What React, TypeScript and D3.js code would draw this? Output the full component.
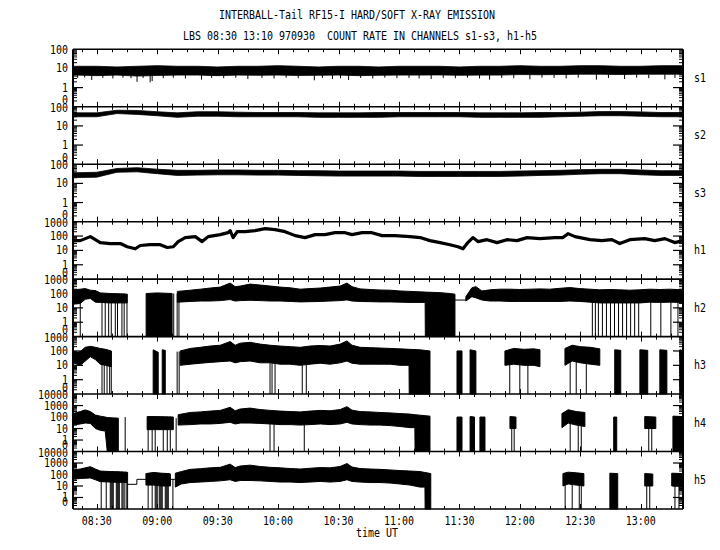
import React from "react";
import * as d3 from "d3";

// ---------- layout / text ----------
const TIME_START = "08:18.2";
const TIME_END = "13:21";
const titleLine1 = "INTERBALL-Tail RF15-I HARD/SOFT X-RAY EMISSION";
const titleLine2 = "LBS 08:30 13:10 970930  COUNT RATE IN CHANNELS s1-s3, h1-h5";
const xAxisTitle = "time UT";
const xTickLabels = ["08:30", "09:00", "09:30", "10:00", "10:30", "11:00", "11:30", "12:00", "12:30", "13:00"];
const channelNames = ["s1", "s2", "s3", "h1", "h2", "h3", "h4", "h5"];
const channelMax = [100, 100, 100, 1000, 1000, 1000, 10000, 10000];
const yLabels100 = ["100", "10", "1", "0"];
const yLabels1000 = ["1000", "100", "10", "1", "0"];
const yLabels10000 = ["10000", "1000", "100", "10", "1", "0"];

// ---------- soft channels: 10-min grid, band hi / lo ----------
const sGridTimes = ["08:20", "08:30", "08:40", "08:50", "09:00", "09:10", "09:20", "09:30", "09:40", "09:50", "10:00", "10:10", "10:20", "10:30", "10:40", "10:50", "11:00", "11:10", "11:20", "11:30", "11:40", "11:50", "12:00", "12:10", "12:20", "12:30", "12:40", "12:50", "13:00", "13:10", "13:20"];
const s1Hi = [13, 13, 12, 13, 14, 13, 13, 12, 13, 13, 14, 13, 12, 13, 13, 12, 13, 13, 13, 12, 13, 13, 14, 13, 13, 14, 14, 13, 13, 14, 14];
const s1Lo = [4.5, 4.2, 4.5, 4.0, 4.3, 4.5, 4.5, 4.2, 4.5, 4.4, 4.5, 4.3, 4.4, 4.5, 4.2, 4.4, 4.5, 4.5, 4.6, 4.4, 4.5, 4.5, 4.8, 4.7, 4.8, 5, 5, 4.8, 5, 5, 5];
const s2Hi = [48, 48, 66, 64, 55, 48, 55, 55, 52, 50, 50, 50, 48, 48, 48, 50, 50, 50, 50, 50, 48, 48, 48, 50, 50, 52, 56, 56, 54, 50, 50];
const s2Lo = [30, 30, 44, 40, 34, 28, 32, 32, 30, 30, 30, 30, 28, 28, 28, 28, 30, 30, 30, 30, 28, 28, 28, 28, 30, 32, 34, 34, 32, 30, 30];
const s3Hi = [36, 38, 60, 66, 55, 48, 48, 50, 50, 48, 48, 46, 46, 44, 44, 44, 44, 42, 42, 42, 42, 42, 44, 46, 48, 52, 54, 54, 50, 46, 46];
const s3Lo = [20, 21, 38, 40, 32, 26, 27, 28, 28, 27, 27, 26, 25, 24, 24, 24, 24, 23, 23, 23, 23, 23, 24, 26, 27, 30, 32, 32, 28, 26, 26];
// downward spikes in s1: [time, lowest value]
const s1Spikes: [string, number][] = [["08:20.5", 3.2], ["08:24", 3.4], ["08:27.5", 2.5], ["08:33", 3.2], ["08:38", 3.0], ["08:43", 3.3], ["08:47", 3.1], ["08:50", 2.0], ["08:53", 3.2], ["08:56.5", 1.9], ["08:57.5", 2.2], ["09:03", 3.1], ["09:08", 3.3], ["09:14", 3.0], ["09:22", 2.6], ["09:27", 3.2], ["09:33", 3.1], ["09:39", 3.3], ["09:45", 2.8], ["09:52", 3.2], ["09:58", 3.0], ["10:04", 3.3], ["10:10", 3.1], ["10:18", 2.4], ["10:22", 3.2], ["10:27", 2.8], ["10:31", 3.1], ["10:35", 2.5], ["10:41", 3.2], ["10:47", 3.0], ["10:53", 3.3], ["10:59", 3.1], ["11:05", 3.2], ["11:10", 3.0], ["11:16", 2.8], ["11:22", 3.2], ["11:28", 3.1], ["11:34", 3.3], ["11:40", 3.0], ["11:45", 2.6], ["11:51", 3.2], ["11:57", 3.1], ["12:05", 2.7], ["12:11", 3.3], ["12:17", 3.2], ["12:23", 3.0], ["12:29", 3.3], ["12:38", 2.6], ["12:44", 3.2], ["12:52", 2.8], ["12:58", 3.3], ["13:04", 3.1], ["13:12", 2.7], ["13:17", 3.2]];

// ---------- h1: single trace ----------
const h1Times = ["08:18.2", "08:21.8", "08:26.8", "08:29.3", "08:31.7", "08:36.7", "08:41.7", "08:45.1", "08:49.1", "08:51.6", "08:56.5", "09:01.5", "09:05", "09:08", "09:10.4", "09:13.9", "09:18.9", "09:22.3", "09:25.3", "09:31.3", "09:35.2", "09:36.2", "09:37.7", "09:39.7", "09:43.7", "09:48.6", "09:53.6", "09:58.5", "10:03.5", "10:08.5", "10:13.4", "10:18.4", "10:23.3", "10:28.3", "10:33.3", "10:36.7", "10:41.7", "10:46.6", "10:51.6", "10:58", "11:05.5", "11:10.5", "11:15.4", "11:20.4", "11:25.3", "11:29.3", "11:31.8", "11:34.2", "11:36.7", "11:39.2", "11:43.7", "11:48.7", "11:53.6", "11:58.6", "12:03.6", "12:10", "12:17.4", "12:21.4", "12:23.9", "12:27.4", "12:34.8", "12:40.7", "12:45.7", "12:49.6", "12:54.6", "13:02", "13:07", "13:12", "13:16.9", "13:21"];
const h1Values = [48, 48, 91, 56, 35, 30, 30, 18, 13, 22, 25, 25, 16, 18, 41, 78, 91, 41, 91, 125, 172, 237, 78, 202, 202, 237, 327, 278, 202, 107, 78, 125, 125, 172, 172, 125, 172, 172, 107, 107, 91, 78, 48, 35, 25, 18, 13, 35, 78, 41, 56, 35, 56, 48, 78, 66, 78, 78, 147, 91, 56, 48, 56, 30, 56, 66, 48, 66, 35, 48];

// ---------- hard channels: band segments [time, hi, lo] (lo 0 = down to zero) ----------
type Pt = [string, number, number];
const h2Segments: Pt[][] = [
  [["08:18.2", 180, 18], ["08:21.8", 200, 20], ["08:24.3", 220, 40], ["08:26.8", 170, 45], ["08:29.3", 160, 25], ["08:31.7", 110, 24], ["08:36.7", 100, 22], ["08:41.7", 95, 22], ["08:45.1", 90, 22]],
  [["08:54.5", 100, 0], ["09:00", 110, 0], ["09:07.4", 100, 0]],
  [["09:10", 140, 25], ["09:12.4", 150, 26], ["09:16.4", 170, 28], ["09:21.4", 200, 30], ["09:26.3", 240, 30], ["09:31.3", 280, 32], ["09:36.2", 530, 38], ["09:38.7", 300, 30], ["09:41.2", 330, 32], ["09:46.1", 450, 34], ["09:51.1", 390, 32], ["09:56.1", 330, 30], ["10:01", 280, 30], ["10:06", 250, 28], ["10:11", 200, 26], ["10:15.9", 220, 27], ["10:20.9", 240, 28], ["10:25.8", 280, 30], ["10:30.8", 330, 32], ["10:34.2", 530, 36], ["10:36.7", 300, 30], ["10:40.7", 210, 28], ["10:45.7", 190, 27], ["10:50.6", 175, 26], ["10:55.6", 170, 26], ["11:00.5", 150, 25], ["11:05.5", 140, 24], ["11:10.5", 130, 24], ["11:13", 126, 24], ["11:13.1", 125, 0], ["11:20.4", 115, 0], ["11:25.3", 100, 0], ["11:27.8", 90, 0]],
  [["11:33.2", 60, 30], ["11:36.2", 250, 60], ["11:38.2", 300, 50], ["11:41.2", 150, 35], ["11:45.2", 180, 30], ["11:50.1", 200, 30], ["11:55.1", 200, 28], ["12:00", 190, 28], ["12:05", 200, 28], ["12:10", 210, 28], ["12:14.9", 200, 28], ["12:19.9", 230, 28], ["12:24.8", 260, 30], ["12:29.8", 220, 28], ["12:34.8", 200, 25], ["12:39.7", 180, 22], ["12:44.7", 190, 22], ["12:49.6", 180, 22], ["12:54.6", 170, 22], ["12:59.6", 180, 22], ["13:04.5", 200, 25], ["13:09.5", 190, 24], ["13:14.4", 200, 25], ["13:21", 180, 24]],
];
const h2Drops: [string, number][] = [["08:21.8", 150], ["08:32.6", 100], ["08:34.2", 100], ["08:35.9", 100], ["08:37.2", 100], ["08:39.2", 100], ["08:40.3", 100], ["08:42.5", 100], ["08:43.6", 100], ["08:45", 90], ["09:08.2", 100], ["09:09.9", 100], ["09:10.8", 120], ["12:36", 150], ["12:37.5", 150], ["12:39", 150], ["12:41", 150], ["12:43", 150], ["12:45", 150], ["12:47", 150], ["12:49", 150], ["12:51", 150], ["12:53", 150], ["12:55", 150], ["12:57", 150], ["12:59", 150], ["13:05", 150], ["13:10", 150], ["13:15", 150], ["13:18.5", 150]];
const h2Steps: [string, number][] = [["11:27.8", 35], ["11:33.2", 35]];

const h3Segments: Pt[][] = [
  [["08:18.2", 70, 15], ["08:21.8", 90, 10], ["08:24.3", 180, 20], ["08:26.8", 210, 40], ["08:29.3", 180, 25], ["08:31.7", 150, 12], ["08:34.2", 130, 10], ["08:37.2", 100, 8]],
  [["08:58", 120, 0], ["09:00.5", 80, 0]],
  [["09:02.5", 120, 0], ["09:04", 110, 0]],
  [["09:11.4", 100, 10], ["09:16.4", 150, 12], ["09:21.4", 180, 14], ["09:26.3", 220, 16], ["09:31.3", 250, 18], ["09:36.2", 450, 20], ["09:38.7", 250, 15], ["09:41.2", 350, 18], ["09:46.1", 400, 20], ["09:51.1", 300, 15], ["09:56.1", 250, 15], ["10:01", 220, 12], ["10:06", 200, 12], ["10:11", 180, 10], ["10:15.9", 220, 12], ["10:20.9", 240, 14], ["10:25.8", 220, 12], ["10:30.8", 300, 15], ["10:34.2", 500, 20], ["10:36.7", 250, 14], ["10:40.7", 180, 12], ["10:45.7", 170, 12], ["10:50.6", 160, 12], ["10:55.6", 150, 12], ["11:00.5", 140, 10], ["11:05", 130, 10], ["11:05.1", 130, 0], ["11:10.5", 120, 0], ["11:15.4", 100, 0]],
  [["11:28.8", 100, 0], ["11:31.3", 100, 0]],
  [["11:35.3", 120, 0], ["11:38.2", 100, 0]],
  [["11:52.6", 100, 10], ["11:57", 150, 12], ["12:02", 130, 10], ["12:07", 140, 10], ["12:10", 120, 8]],
  [["12:22.4", 150, 10], ["12:26", 250, 20], ["12:30", 200, 15], ["12:35", 180, 12], ["12:39.7", 140, 10]],
  [["12:47.1", 120, 0], ["12:50.1", 110, 0]],
  [["12:59.6", 120, 0], ["13:03.5", 110, 0]],
  [["13:09.5", 120, 0], ["13:13", 110, 0]],
  [["13:19.4", 120, 0], ["13:21", 110, 0]],
];
const h3Drops: [string, number][] = [["08:32.6", 150], ["08:33.7", 140], ["08:35.1", 130], ["08:36.4", 110], ["08:37.2", 100], ["09:09.9", 90], ["09:10.9", 90], ["09:56", 200], ["09:57", 200], ["09:58.5", 200], ["10:12", 180], ["10:14", 180], ["11:55", 120], ["12:00", 120], ["12:04", 120], ["12:25", 150], ["12:28", 150], ["12:33", 150]];

const h4Segments: Pt[][] = [
  [["08:18.2", 200, 20], ["08:21.8", 300, 25], ["08:24.3", 420, 30], ["08:26.8", 300, 28], ["08:29.3", 150, 10], ["08:31.7", 120, 7], ["08:34.2", 100, 6], ["08:35.2", 90, 0], ["08:40.7", 80, 0]],
  [["08:55", 110, 8], ["09:00", 110, 8], ["09:08", 100, 8]],
  [["09:10.4", 160, 20], ["09:16.4", 250, 22], ["09:21.4", 280, 25], ["09:26.3", 330, 25], ["09:31.3", 380, 28], ["09:36.2", 700, 35], ["09:38.7", 350, 25], ["09:41.2", 500, 30], ["09:46.1", 600, 30], ["09:51.1", 450, 28], ["09:56.1", 380, 25], ["10:01", 330, 22], ["10:06", 300, 22], ["10:11", 280, 20], ["10:15.9", 330, 22], ["10:20.9", 380, 25], ["10:25.8", 350, 22], ["10:30.8", 450, 25], ["10:34.2", 800, 35], ["10:36.7", 400, 25], ["10:40.7", 300, 22], ["10:45.7", 280, 20], ["10:50.6", 250, 20], ["10:55.6", 230, 18], ["11:00.5", 200, 15], ["11:05.5", 180, 12], ["11:07.9", 160, 12], ["11:08", 160, 0], ["11:15.4", 120, 0]],
  [["11:28.8", 100, 0], ["11:31.3", 100, 0]],
  [["11:35.3", 110, 0], ["11:37.5", 100, 0]],
  [["11:40.2", 100, 0], ["11:42.7", 100, 0]],
  [["11:55.1", 110, 10], ["11:58.1", 100, 10]],
  [["12:20.9", 200, 12], ["12:24", 430, 30], ["12:28", 300, 20], ["12:32.3", 250, 15]],
  [["12:46.6", 100, 0], ["12:48.1", 100, 0]],
  [["13:02", 110, 10], ["13:07.5", 100, 10]],
  [["13:16", 120, 0], ["13:21", 110, 0]],
];
const h4Drops: [string, number][] = [["08:44.1", 100], ["08:55.5", 110], ["08:57.5", 110], ["08:59", 110], ["09:03", 110], ["09:05", 110], ["09:06.5", 110], ["09:09.4", 80], ["09:56", 300], ["09:58", 300], ["10:13", 250], ["11:56", 100], ["11:57.2", 100], ["12:25", 300], ["12:29", 250], ["12:30.5", 250], ["13:04", 100], ["13:05.5", 100]];

const h5Segments: Pt[][] = [
  [["08:18.2", 250, 40], ["08:21.8", 300, 45], ["08:26.8", 480, 50], ["08:29.3", 300, 35], ["08:31.7", 200, 24], ["08:36.7", 180, 22], ["08:41.7", 170, 20], ["08:45.1", 160, 20]],
  [["08:54.4", 120, 12], ["08:58", 150, 12], ["09:02", 130, 10], ["09:06", 120, 10], ["09:06.6", 110, 10]],
  [["09:09", 130, 8], ["09:12", 180, 15], ["09:16.4", 280, 20], ["09:21.4", 320, 22], ["09:26.3", 380, 25], ["09:31.3", 420, 28], ["09:36.2", 800, 35], ["09:38.7", 400, 25], ["09:41.2", 550, 30], ["09:46.1", 650, 30], ["09:51.1", 500, 28], ["09:56.1", 420, 25], ["10:01", 380, 22], ["10:06", 330, 22], ["10:11", 300, 20], ["10:15.9", 350, 22], ["10:20.9", 400, 25], ["10:25.8", 380, 22], ["10:30.8", 500, 25], ["10:34.2", 900, 35], ["10:36.7", 450, 25], ["10:40.7", 330, 22], ["10:45.7", 300, 20], ["10:50.6", 280, 20], ["10:55.6", 250, 18], ["11:00.5", 220, 15], ["11:05.5", 200, 12], ["11:10.5", 180, 8], ["11:12.9", 150, 8], ["11:13", 150, 0], ["11:15.8", 120, 0]],
  [["12:21.4", 120, 10], ["12:24", 160, 15], ["12:28", 140, 12], ["12:31.8", 120, 10]],
  [["12:44.7", 130, 0], ["12:48.6", 120, 0]],
  [["13:02", 120, 10], ["13:06", 110, 10]],
  [["13:15.4", 130, 10], ["13:21", 120, 10]],
];
const h5Drops: [string, number][] = [["08:32.2", 200], ["08:34.7", 190], ["08:36.7", 180], ["08:37.2", 180], ["08:37.7", 180], ["08:38.2", 175], ["08:39.7", 175], ["08:40.2", 175], ["08:40.7", 170], ["08:41.2", 170], ["08:42.5", 170], ["08:43", 165], ["08:43.6", 165], ["08:44.6", 160], ["08:45.3", 160], ["08:55.5", 120], ["08:57.5", 140], ["08:59", 150], ["08:59.5", 150], ["09:00", 140], ["09:01", 140], ["09:01.5", 135], ["09:02", 130], ["09:02.5", 130], ["09:04", 125], ["09:04.5", 125], ["09:05", 120], ["09:05.5", 120], ["09:07.8", 38], ["12:22.5", 120], ["12:26", 150], ["12:29.5", 130], ["12:30.5", 125], ["13:03", 110], ["13:04.5", 110], ["13:17", 120], ["13:19", 120]];
const h5Steps: [string, number][] = [["08:45.1", 14], ["08:49.9", 38], ["08:54.4", 38]];
const h5Steps2: [string, number][] = [["09:06.6", 38], ["09:09", 38]];

// ---------- helpers ----------
const tm = (s: string) => {
  const [h, m] = s.split(":");
  return +h * 60 + +m;
};

const W = 720, H = 550;
const X0 = 73, X1 = 683;
const TOP = 49.3, PH = 57.46;
const FONT = "'DejaVu Sans Mono', 'Liberation Mono', monospace";

function Txt(props: { x: number; y: number; children: string; anchor?: string }) {
  const { x, y, children, anchor = "start" } = props;
  return (
    <text x={x} y={y} fontFamily={FONT} fontSize={12} textAnchor={anchor} dominantBaseline="central"
      textLength={6 * children.length} lengthAdjust="spacingAndGlyphs" fill="#000"
      xmlSpace="preserve" style={{ whiteSpace: "pre" }}>
      {children}
    </text>
  );
}

export default function App() {
  const x = d3.scaleLinear().domain([tm(TIME_START), tm(TIME_END)]).range([X0, X1]);
  const tStart = tm(TIME_START), tEnd = tm(TIME_END);

  const panels = channelNames.map((name, i) => {
    const top = TOP + i * PH;
    const bottom = top + PH;
    const max = channelMax[i];
    const y = d3.scaleLog().domain([0.1, max]).range([bottom, top]).clamp(true);
    return { name, top, bottom, max, y };
  });

  const bandPath = (y: d3.ScaleLogarithmic<number, number>, pts: Pt[]) =>
    d3.area<Pt>()
      .x((d) => x(tm(d[0])))
      .y0((d) => y(Math.max(d[2], 0.1)))
      .y1((d) => y(Math.max(d[1], 0.1)))(pts) || "";

  const sBand = (hi: number[], lo: number[]): Pt[] => {
    const pts: Pt[] = sGridTimes.map((t, k) => [t, hi[k], lo[k]]);
    return [[TIME_START, hi[0], lo[0]], ...pts, [TIME_END, hi[hi.length - 1], lo[lo.length - 1]]];
  };

  const elements: React.ReactNode[] = [];

  panels.forEach((p, i) => {
    const { y } = p;
    const g: React.ReactNode[] = [];
    if (i < 3) {
      const hi = [s1Hi, s2Hi, s3Hi][i];
      const lo = [s1Lo, s2Lo, s3Lo][i];
      g.push(<path key="b" d={bandPath(y, sBand(hi, lo))} fill="#000" stroke="#000" strokeWidth={0.8} />);
      if (i === 0) {
        s1Spikes.forEach((s, k) => {
          const xx = x(tm(s[0]));
          g.push(<line key={"sp" + k} x1={xx} x2={xx} y1={y(5)} y2={y(s[1])} stroke="#000" strokeWidth={1} />);
        });
      }
    } else if (i === 3) {
      const line = d3.line<number>().x((_, k) => x(tm(h1Times[k]))).y((v) => y(v));
      g.push(<path key="l" d={line(h1Values) || ""} fill="none" stroke="#000" strokeWidth={3.2} strokeLinejoin="round" />);
    } else {
      const segs = [h2Segments, h3Segments, h4Segments, h5Segments][i - 4];
      const drops = [h2Drops, h3Drops, h4Drops, h5Drops][i - 4];
      segs.forEach((seg, k) => {
        g.push(<path key={"seg" + k} d={bandPath(y, seg)} fill="#000" stroke="#000" strokeWidth={1} />);
      });
      drops.forEach((dr, k) => {
        const xx = x(tm(dr[0]));
        g.push(<line key={"dr" + k} x1={xx} x2={xx} y1={y(dr[1])} y2={p.bottom} stroke="#000" strokeWidth={1} />);
      });
      const stepSets = i === 4 ? [h2Steps] : i === 7 ? [h5Steps, h5Steps2] : [];
      stepSets.forEach((st, k) => {
        const ln = d3.line<[string, number]>().x((d) => x(tm(d[0]))).y((d) => y(d[1])).curve(d3.curveStepAfter);
        g.push(<path key={"st" + k} d={ln(st) || ""} fill="none" stroke="#000" strokeWidth={1} />);
      });
    }
    elements.push(<g key={"data" + i}>{g}</g>);

    // y ticks
    const decades: number[] = [];
    for (let v = 0.1; v <= p.max * 1.0001; v *= 10) decades.push(+v.toPrecision(3));
    const tk: React.ReactNode[] = [];
    decades.forEach((dv, k) => {
      const yy = y(dv);
      if (k > 0 && k < decades.length - 1) {
        tk.push(<line key={"ml" + k} x1={X0} x2={X0 + 10} y1={yy} y2={yy} stroke="#000" strokeWidth={1.2} />);
        tk.push(<line key={"mr" + k} x1={X1 - 10} x2={X1} y1={yy} y2={yy} stroke="#000" strokeWidth={1.2} />);
      }
      if (k < decades.length - 1) {
        for (let m = 2; m <= 9; m++) {
          const ym = y(dv * m);
          tk.push(<line key={"nl" + k + "_" + m} x1={X0} x2={X0 + 4} y1={ym} y2={ym} stroke="#000" strokeWidth={1} />);
          tk.push(<line key={"nr" + k + "_" + m} x1={X1 - 4} x2={X1} y1={ym} y2={ym} stroke="#000" strokeWidth={1} />);
        }
      }
    });
    const labels = p.max === 100 ? yLabels100 : p.max === 1000 ? yLabels1000 : yLabels10000;
    labels.forEach((lab, k) => {
      const last = k === labels.length - 1;
      const yy = last ? p.bottom - 6.5 : k === 0 ? p.top + 1 : y(p.max / Math.pow(10, k));
      tk.push(<Txt key={"lab" + k} x={68} y={yy} anchor="end">{lab}</Txt>);
    });
    // x ticks (top and bottom of each panel)
    const first = Math.ceil((tStart - tm("08:30")) / 7.5);
    for (let k = first; tm("08:30") + k * 7.5 <= tEnd; k++) {
      const tt = tm("08:30") + k * 7.5;
      const xx = Math.round(x(tt)) + 0.5;
      const major = k % 4 === 0;
      const len = major ? 5 : 3;
      tk.push(<line key={"xt" + k} x1={xx} x2={xx} y1={p.top} y2={p.top + len} stroke="#000" strokeWidth={1} />);
      tk.push(<line key={"xb" + k} x1={xx} x2={xx} y1={p.bottom} y2={p.bottom - len} stroke="#000" strokeWidth={1} />);
    }
    tk.push(<Txt key="name" x={694} y={(p.top + p.bottom) / 2}>{p.name}</Txt>);
    tk.push(<line key="hl" x1={X0} x2={X1} y1={p.top} y2={p.top} stroke="#000" strokeWidth={1.6} />);
    elements.push(<g key={"axes" + i}>{tk}</g>);
  });

  const bottomY = TOP + 8 * PH;

  return (
    <svg width={W} height={H} viewBox={`0 0 ${W} ${H}`} style={{ position: "absolute", left: 0, top: 0, background: "#fff" }}>
      <rect x={0} y={0} width={W} height={H} fill="#fff" />
      <Txt x={357} y={15} anchor="middle">{titleLine1}</Txt>
      <Txt x={360} y={36} anchor="middle">{titleLine2}</Txt>
      {elements}
      <line x1={X0} x2={X1} y1={bottomY} y2={bottomY} stroke="#000" strokeWidth={1.6} />
      <line x1={X0} x2={X0} y1={TOP} y2={bottomY} stroke="#000" strokeWidth={2} />
      <line x1={X1} x2={X1} y1={TOP} y2={bottomY} stroke="#000" strokeWidth={2} />
      {xTickLabels.map((l) => (
        <Txt key={l} x={x(tm(l))} y={521} anchor="middle">{l}</Txt>
      ))}
      <Txt x={377} y={533} anchor="middle">{xAxisTitle}</Txt>
    </svg>
  );
}
